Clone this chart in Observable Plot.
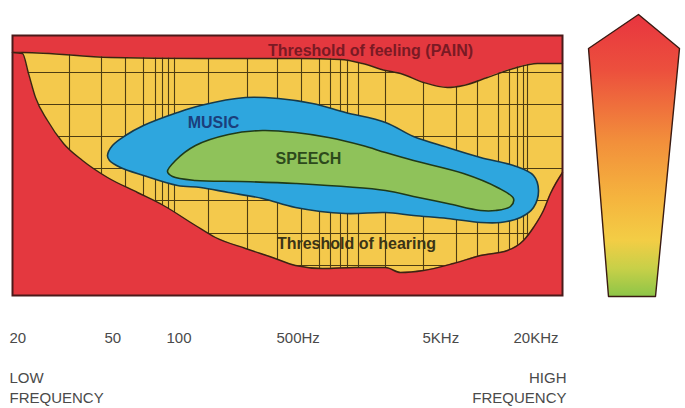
<!DOCTYPE html>
<html><head><meta charset="utf-8">
<script src="https://cdn.jsdelivr.net/npm/d3@7"></script>
<script src="https://cdn.jsdelivr.net/npm/@observablehq/plot@0.6"></script>
<style>html,body{margin:0;padding:0;background:#fff;} svg{display:block;font-family:"Liberation Sans",Arial,sans-serif;}</style>
</head><body><div id="chart"></div>
<script>
// x: relative frequency position (0 = 20 Hz edge, 110 = 20 kHz edge); y: sound level (0–130)
const painCurve = [[0,121.5],[2.2,121.5],[19.6,119],[37.6,118.5],[57.6,118.5],[65.6,118],[70,116],[74.6,112.5],[77.6,111],[82.2,106.5],[87,104],[90.2,105],[95,109],[100.2,113.5],[105,116],[110,116]];
const hearingCurve = [[0,121.5],[2,121],[3.2,111],[4.6,99],[7,87.5],[10.2,76],[14,67.5],[19,59],[25,51.5],[30.2,45],[36.6,35],[40.6,29],[46.6,23.5],[52,19],[56.6,15],[62,13.5],[68.6,14],[74.6,14],[77.6,11.5],[82.2,12.5],[88.2,16],[93.6,20],[99,22.5],[102.2,27.5],[104.2,34],[106.2,42.5],[107.6,51],[110,61.5]];
const musicArea = [[19,70],[20,75],[22.6,80],[26.2,85],[33,91.5],[37.6,95],[46.6,99],[53.2,98.5],[60,96],[66.6,91.5],[74.6,86.5],[80.2,79.5],[87,74],[93.6,69],[100.2,65],[104.2,60],[105.2,52.5],[104.2,44],[101.6,39],[97.6,36.5],[93.6,36.5],[87,38.5],[80.2,40],[74.6,41.5],[66.6,41],[56.6,44],[50,48.5],[43.2,51.5],[37.6,54],[33,55],[26.2,60],[21.6,64],[19.4,67.5]];
const speechArea = [[31,62],[32.6,67.5],[36.6,75],[43.2,80.5],[50,82.5],[56.6,81.5],[63.2,79],[70,75],[74.6,71.5],[80.2,67.5],[90.2,61],[97,54],[100.2,48.5],[99.6,44.5],[96.6,42.5],[93.6,42.5],[87,46],[80.2,49.5],[74.6,52.5],[56.6,56],[45.6,57],[36.6,57.5],[32,59.5]];
const gridX = [11.4,17.8,22.6,26.2,28.6,30,31.2,32.4,39.2,47,53,57.8,61.4,63.6,65.6,67,69.2,74.6,82.2,88.8,93,97.2,99.4,101,102.2,103];
const gridY = [111.5,95.5,79.5,63.5,47.5,31,15];
const scalePentagon = [[125.2,140.5],[133.4,123.5],[128.6,-0.5],[119.2,-0.5],[115.2,123.5]];
const regionLabels = ["Threshold of feeling (PAIN)","MUSIC","SPEECH","Threshold of hearing"];
const regionLabelX = [71.6,40.2,59.2,68.8];
const regionLabelY = [122.5,86.5,68.5,26];
const regionLabelColor = ["#7a1a24","#1b3f7c","#2d4a1c","#3b3416"];
const tickLabels = ["20","50","100","500Hz","5KHz","20KHz"];
const tickPos = [-0.6,18.4,30.8,52.8,82,100.2];
const tickRowY = -21.5;
const lowLabels = ["LOW","FREQUENCY"];
const highLabels = ["HIGH","FREQUENCY"];
const lowLabelX = -0.6;
const highLabelX = 110.8;
const endLabelY = [-41.5,-51.5];
const yMax = 130;

const RED="#e4383f", YEL="#f4c94c", BLUE="#2ea6de", GREEN="#8fc25a", INK="#3a2412", GRID="#4d3c12";

const defs = () => {
  const d = d3.create("svg:defs");
  const g = d.append("linearGradient").attr("id","scaleGrad").attr("x1",0).attr("y1",0).attr("x2",0).attr("y2",1);
  [[0,"#e8353f"],[0.2,"#ec503d"],[0.45,"#f28f3b"],[0.65,"#f5b43e"],[0.8,"#f3cd45"],[0.9,"#c8d048"],[1,"#8dc548"]]
    .forEach(([o,c]) => g.append("stop").attr("offset",o).attr("stop-color",c));
  return d.node();
};

const chart = Plot.plot({
  width: 685, height: 408,
  marginLeft: 12, marginRight: 123, marginTop: 35, marginBottom: 113,
  x: {domain: [0,110], axis: null},
  y: {domain: [0,yMax], axis: null},
  style: {fontFamily: '"Liberation Sans", Arial, sans-serif', background: "white"},
  marks: [
    defs,
    Plot.frame({fill: YEL, stroke: null}),
    Plot.ruleX(gridX, {stroke: GRID, strokeWidth: 1.1}),
    Plot.ruleY(gridY, {stroke: GRID, strokeWidth: 1.1}),
    Plot.areaY(painCurve, {x: d=>d[0], y1: d=>d[1], y2: () => yMax, fill: RED, curve: "monotone-x"}),
    Plot.line(painCurve, {x: d=>d[0], y: d=>d[1], stroke: INK, strokeWidth: 1.4, curve: "monotone-x"}),
    Plot.areaY(hearingCurve, {x: d=>d[0], y1: () => 0, y2: d=>d[1], fill: RED, curve: "monotone-x"}),
    Plot.line(hearingCurve, {x: d=>d[0], y: d=>d[1], stroke: INK, strokeWidth: 1.4, curve: "monotone-x"}),
    Plot.line(musicArea, {x: d=>d[0], y: d=>d[1], fill: BLUE, stroke: "#173a4a", strokeWidth: 1.6, curve: "catmull-rom-closed"}),
    Plot.line(speechArea, {x: d=>d[0], y: d=>d[1], fill: GREEN, stroke: "#1f3a1a", strokeWidth: 1.6, curve: "catmull-rom-closed"}),
    Plot.frame({stroke: "#4a1a1a", strokeWidth: 2}),
    ...regionLabels.map((t,i) => Plot.text([t], {x: () => regionLabelX[i], y: () => regionLabelY[i], text: d=>d, fill: regionLabelColor[i], fontSize: 16, fontWeight: "bold"})),
    Plot.line(scalePentagon, {x: d=>d[0], y: d=>d[1], fill: "url(#scaleGrad)", stroke: "#3a1a12", strokeWidth: 1.4, curve: "linear-closed"}),
    Plot.text(tickLabels, {x: (d,i) => tickPos[i], y: () => tickRowY, text: d=>d, textAnchor: "start", fontSize: 15, fill: "#4a4a4a"}),
    Plot.text(lowLabels, {x: () => lowLabelX, y: (d,i) => endLabelY[i], text: d=>d, textAnchor: "start", fontSize: 15, fill: "#4a4a4a"}),
    Plot.text(highLabels, {x: () => highLabelX, y: (d,i) => endLabelY[i], text: d=>d, textAnchor: "end", fontSize: 15, fill: "#4a4a4a"})
  ]
});
document.getElementById("chart").append(chart);
</script>
</body></html>
